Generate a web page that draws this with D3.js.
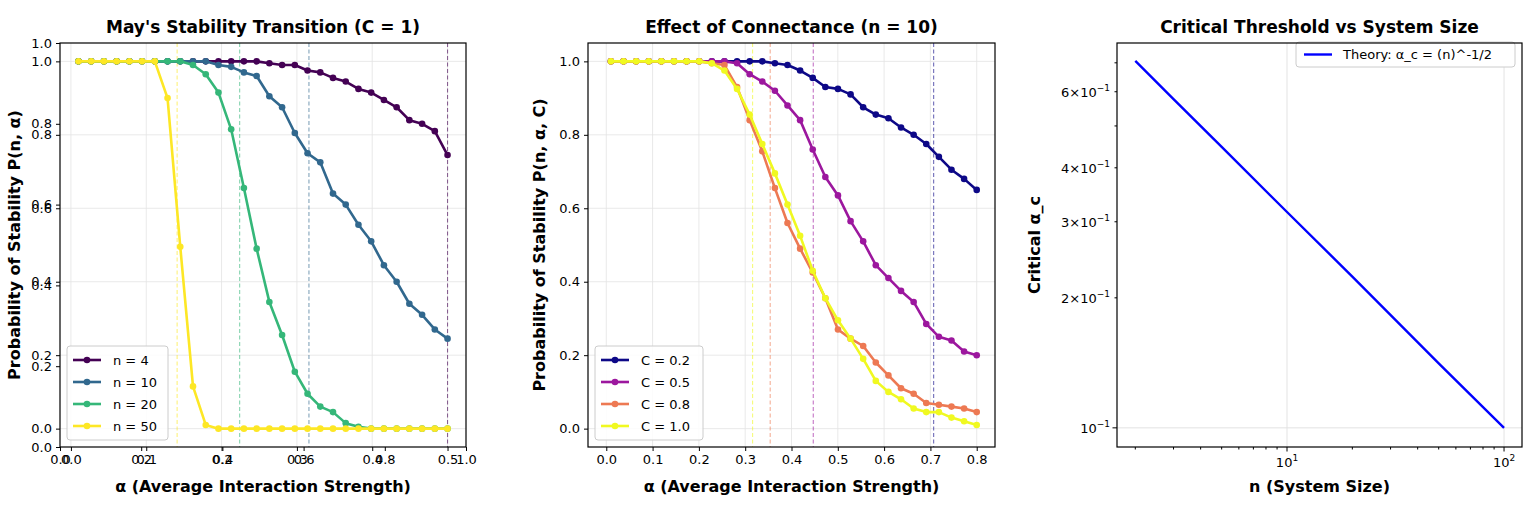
<!DOCTYPE html>
<html><head><meta charset="utf-8">
<script src="https://cdn.jsdelivr.net/npm/d3@7"></script>
<style>
body{margin:0;background:#fff;font-family:"DejaVu Sans",sans-serif;}
text{font-family:"DejaVu Sans",sans-serif;}
</style></head>
<body><svg width="1532" height="518"></svg>
<script>
// ---- data ----
var alpha1 = d3.range(30).map(i => 0.01 + i * 0.49 / 29);
var alpha2 = d3.range(30).map(i => 0.01 + i * 0.79 / 29);

var nLabels = ['n = 4', 'n = 10', 'n = 20', 'n = 50'];
var nColors = ['#440154', '#31688e', '#35b779', '#fde725'];
var nCrit = [0.5, 0.316, 0.224, 0.141];
var p_n4 = [1,1,1,1,1,1,1,1,1,1,1,1,1,1,1,0.995,0.99,0.99,0.975,0.97,0.955,0.945,0.925,0.915,0.895,0.875,0.84,0.83,0.81,0.745];
var p_n10 = [1,1,1,1,1,1,1,1,1,1,1,0.99,0.985,0.97,0.96,0.905,0.875,0.805,0.75,0.725,0.64,0.61,0.555,0.51,0.445,0.4,0.34,0.31,0.27,0.245];
var p_n20 = [1,1,1,1,1,1,1,1,1,0.99,0.965,0.915,0.815,0.655,0.49,0.345,0.255,0.155,0.095,0.06,0.045,0.015,0.005,0,0,0,0,0,0,0];
var p_n50 = [1,1,1,1,1,1,1,0.9,0.495,0.115,0.01,0,0,0,0,0,0,0,0,0,0,0,0,0,0,0,0,0,0,0];

var cLabels = ['C = 0.2', 'C = 0.5', 'C = 0.8', 'C = 1.0'];
var cColors = ['#0d0887', '#9c179e', '#ed7953', '#f0f921'];
var cCrit = [0.707, 0.447, 0.354, 0.316];
var p_c02 = [1,1,1,1,1,1,1,1,1,1,1,1,1,0.995,0.99,0.975,0.955,0.93,0.925,0.91,0.875,0.855,0.845,0.82,0.8,0.775,0.74,0.705,0.68,0.65];
var p_c05 = [1,1,1,1,1,1,1,1,1,1,0.995,0.965,0.945,0.92,0.88,0.84,0.76,0.685,0.635,0.565,0.51,0.445,0.41,0.375,0.345,0.285,0.25,0.24,0.21,0.2];
var p_c08 = [1,1,1,1,1,1,1,1,0.995,0.99,0.93,0.84,0.755,0.655,0.56,0.49,0.425,0.355,0.27,0.245,0.225,0.18,0.145,0.11,0.095,0.07,0.065,0.06,0.055,0.045];
var p_c10 = [1,1,1,1,1,1,1,1,0.995,0.975,0.925,0.855,0.775,0.695,0.61,0.525,0.43,0.355,0.295,0.245,0.19,0.13,0.1,0.08,0.055,0.045,0.045,0.03,0.02,0.01];

var sizes = [2, 3, 5, 10, 20, 50, 100];
var alphaC = [0.707, 0.577, 0.447, 0.316, 0.224, 0.141, 0.1];

var svg = d3.select('svg');
var plotTop = 43, plotBottom = 447;

function frame(g, x0, x1) {
  g.append('rect').attr('x', x0).attr('y', plotTop).attr('width', x1 - x0).attr('height', plotBottom - plotTop)
    .attr('fill', 'none').attr('stroke', '#000').attr('stroke-width', 1.2);
}
function styleAxis(a) {
  a.select('.domain').remove();
  a.selectAll('text').attr('font-size', 13).attr('fill', '#000');
  a.selectAll('line').attr('stroke', '#000');
}
function labels(x0, x1, title, xl, yl, ylx) {
  var cx = (x0 + x1) / 2;
  svg.append('text').attr('x', cx).attr('y', 33).attr('text-anchor', 'middle')
    .attr('font-size', 17).attr('font-weight', 'bold').text(title);
  svg.append('text').attr('x', cx).attr('y', 492).attr('text-anchor', 'middle')
    .attr('font-size', 16).attr('font-weight', 'bold').text(xl);
  svg.append('text').attr('transform', 'translate(' + ylx + ',' + (plotTop + plotBottom) / 2 + ') rotate(-90)')
    .attr('text-anchor', 'middle').attr('font-size', 16).attr('font-weight', 'bold').text(yl);
}

function linePanel(x0, x1, alphas, xdom, xticks, series, cols, labs, crit, legendX) {
  var g = svg.append('g');
  var x = d3.scaleLinear().domain(xdom).range([x0, x1]);
  var y = d3.scaleLinear().domain([-0.05, 1.05]).range([plotBottom, plotTop]);
  // grid
  g.selectAll('.gx').data(xticks).enter().append('line')
    .attr('x1', d => x(d)).attr('x2', d => x(d)).attr('y1', plotTop).attr('y2', plotBottom)
    .attr('stroke', '#e3e3e3').attr('stroke-width', 0.8);
  g.selectAll('.gy').data([0, 0.2, 0.4, 0.6, 0.8, 1]).enter().append('line')
    .attr('x1', x0).attr('x2', x1).attr('y1', d => y(d)).attr('y2', d => y(d))
    .attr('stroke', '#e3e3e3').attr('stroke-width', 0.8);
  crit.forEach(function (c, k) {
    g.append('line').attr('x1', x(c)).attr('x2', x(c)).attr('y1', plotTop).attr('y2', plotBottom)
      .attr('stroke', cols[k]).attr('stroke-opacity', 0.6).attr('stroke-width', 1.1)
      .attr('stroke-dasharray', '4,2.5');
  });
  var line = d3.line().x((d, i) => x(alphas[i])).y(d => y(d));
  series.forEach(function (s, k) {
    g.append('path').datum(s).attr('d', line).attr('fill', 'none')
      .attr('stroke', cols[k]).attr('stroke-width', 2.6).attr('stroke-linejoin', 'round');
    g.selectAll(null).data(s).enter().append('circle')
      .attr('cx', (d, i) => x(alphas[i])).attr('cy', d => y(d)).attr('r', 3.3).attr('fill', cols[k]);
  });
  var ax = g.append('g').attr('transform', 'translate(0,' + plotBottom + ')')
    .call(d3.axisBottom(x).tickValues(xticks).tickFormat(d3.format('.1f')).tickSize(4).tickPadding(4));
  styleAxis(ax);
  var ay = g.append('g').attr('transform', 'translate(' + x0 + ',0)')
    .call(d3.axisLeft(y).tickValues([0, 0.2, 0.4, 0.6, 0.8, 1]).tickFormat(d3.format('.1f')).tickSize(4).tickPadding(4));
  styleAxis(ay);
  // legend
  var lg = g.append('g').attr('transform', 'translate(' + legendX + ',346)');
  lg.append('rect').attr('width', labs[0].length > 6 ? 108 : 101).attr('height', 94).attr('rx', 3)
    .attr('fill', '#fff').attr('fill-opacity', 0.85).attr('stroke', '#ccc');
  labs.forEach(function (l, k) {
    var yy = 14 + k * 22;
    lg.append('line').attr('x1', 6).attr('x2', 34).attr('y1', yy).attr('y2', yy)
      .attr('stroke', cols[k]).attr('stroke-width', 2.6);
    lg.append('circle').attr('cx', 20).attr('cy', yy).attr('r', 3.3).attr('fill', cols[k]);
    lg.append('text').attr('x', 46).attr('y', yy + 5).attr('font-size', 13).text(l);
  });
  frame(g, x0, x1);
  return g;
}

// panel 1
var p1 = linePanel(60, 466, alpha1, [-0.0145, 0.5245], [0, 0.1, 0.2, 0.3, 0.4, 0.5],
  [p_n4, p_n10, p_n20, p_n50], nColors, nLabels, nCrit, 67);
// overlaid default 0..1 axis
var ox = d3.scaleLinear().domain([0, 1]).range([60, 466]);
var oy = d3.scaleLinear().domain([0, 1]).range([plotBottom, plotTop]);
var oax = p1.append('g').attr('transform', 'translate(0,' + plotBottom + ')')
  .call(d3.axisBottom(ox).ticks(5).tickFormat(d3.format('.1f')).tickSize(4).tickPadding(4));
styleAxis(oax);
var oay = p1.append('g').attr('transform', 'translate(60,0)')
  .call(d3.axisLeft(oy).ticks(5).tickFormat(d3.format('.1f')).tickSize(4).tickPadding(4));
styleAxis(oay);
labels(60, 466, "May's Stability Transition (C = 1)", 'α (Average Interaction Strength)', 'Probability of Stability P(n, α)', 20);

// panel 2
linePanel(588, 995, alpha2, [-0.0395, 0.8395], [0, 0.1, 0.2, 0.3, 0.4, 0.5, 0.6, 0.7, 0.8],
  [p_c02, p_c05, p_c08, p_c10], cColors, cLabels, cCrit, 595);
labels(588, 995, 'Effect of Connectance (n = 10)', 'α (Average Interaction Strength)', 'Probability of Stability P(n, α, C)', 545);

// panel 3
var g3 = svg.append('g');
var x3 = d3.scaleLog().domain([1.647, 121]).range([1117, 1522]);
var y3 = d3.scaleLog().domain([0.0903, 0.778]).range([plotBottom, plotTop]);
[10, 100].forEach(v => g3.append('line').attr('x1', x3(v)).attr('x2', x3(v)).attr('y1', plotTop).attr('y2', plotBottom).attr('stroke', '#e3e3e3'));
g3.append('line').attr('x1', 1117).attr('x2', 1522).attr('y1', y3(0.1)).attr('y2', y3(0.1)).attr('stroke', '#e3e3e3');
g3.append('path').datum(sizes.map((n, i) => [n, alphaC[i]]))
  .attr('d', d3.line().x(d => x3(d[0])).y(d => y3(d[1])))
  .attr('fill', 'none').attr('stroke', '#0000ff').attr('stroke-width', 2.4);
var xMinor = [2, 3, 4, 5, 6, 7, 8, 9, 20, 30, 40, 50, 60, 70, 80, 90];
g3.selectAll(null).data(xMinor).enter().append('line')
  .attr('x1', d => x3(d)).attr('x2', d => x3(d)).attr('y1', plotBottom).attr('y2', plotBottom + 2.5).attr('stroke', '#000');
g3.selectAll(null).data([10, 100]).enter().append('line')
  .attr('x1', d => x3(d)).attr('x2', d => x3(d)).attr('y1', plotBottom).attr('y2', plotBottom + 4.5).attr('stroke', '#000');
var xt = g3.selectAll(null).data([[10, '1'], [100, '2']]).enter().append('text')
  .attr('x', d => x3(d[0])).attr('y', plotBottom + 20).attr('text-anchor', 'middle').attr('font-size', 13);
xt.append('tspan').text('10');
xt.append('tspan').attr('dy', -6).attr('font-size', 9).text(d => d[1]);
var yMinor = [0.2, 0.3, 0.4, 0.5, 0.6, 0.7];
g3.selectAll(null).data(yMinor).enter().append('line')
  .attr('x1', 1117).attr('x2', 1114.5).attr('y1', d => y3(d)).attr('y2', d => y3(d)).attr('stroke', '#000');
g3.append('line').attr('x1', 1117).attr('x2', 1112.5).attr('y1', y3(0.1)).attr('y2', y3(0.1)).attr('stroke', '#000');
var ytl = [[0.6, '6'], [0.4, '4'], [0.3, '3'], [0.2, '2']];
var yt = g3.selectAll(null).data(ytl).enter().append('text')
  .attr('x', 1110).attr('y', d => y3(d[0]) + 5).attr('text-anchor', 'end').attr('font-size', 13);
yt.append('tspan').text(d => d[1] + '\u00d710');
yt.append('tspan').attr('dy', -6).attr('font-size', 9).text('\u22121');
var y10 = g3.append('text').attr('x', 1110).attr('y', y3(0.1) + 5).attr('text-anchor', 'end').attr('font-size', 13);
y10.append('tspan').text('10');
y10.append('tspan').attr('dy', -6).attr('font-size', 9).text('\u22121');
var lg3 = g3.append('g').attr('transform', 'translate(1296,42)');
lg3.append('rect').attr('width', 219).attr('height', 25).attr('rx', 3).attr('fill', '#fff').attr('stroke', '#ccc');
lg3.append('line').attr('x1', 8).attr('x2', 36).attr('y1', 12.5).attr('y2', 12.5).attr('stroke', '#0000ff').attr('stroke-width', 2.4);
lg3.append('text').attr('x', 47).attr('y', 17).attr('font-size', 13).text('Theory: α_c = (n)^-1/2');
frame(g3, 1117, 1522);
labels(1117, 1522, 'Critical Threshold vs System Size', 'n (System Size)', 'Critical α_c', 1040);
</script></body></html>
